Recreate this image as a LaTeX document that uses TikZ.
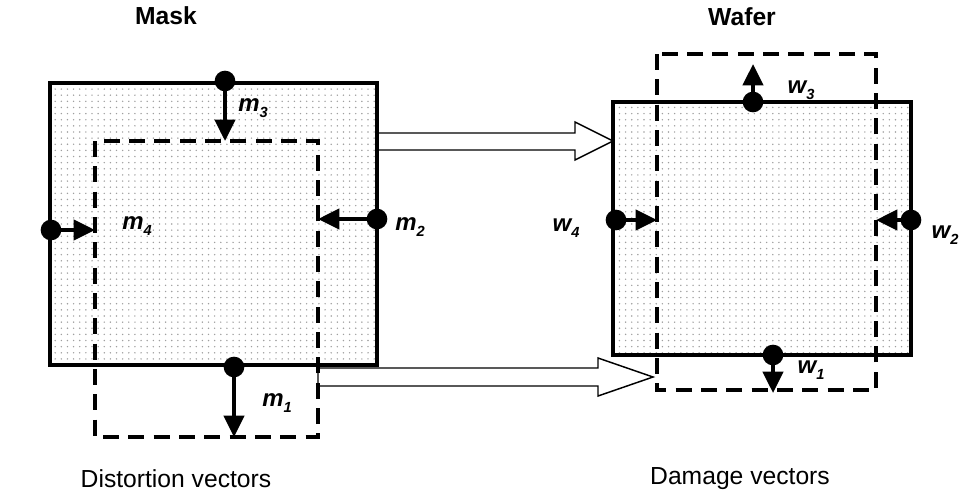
\documentclass[tikz,border=0pt]{standalone}
\usepackage{fontspec}
\setmainfont{Liberation Sans}
\usetikzlibrary{patterns,arrows.meta}
\pgfdeclarepatternformonly{sparsedots}{\pgfqpoint{-1pt}{-1pt}}{\pgfqpoint{1pt}{1pt}}{\pgfqpoint{4.6pt}{4.6pt}}%
  {\pgfpathcircle{\pgfqpoint{0pt}{0pt}}{0.6pt}\pgfusepath{fill}}
\newcommand{\idx}[1]{\raisebox{-0.45ex}{\fontsize{11}{11}\selectfont #1}}

\begin{document}
\begin{tikzpicture}[x=0.75pt,y=-0.75pt,
  plate/.style={draw,line width=3.4pt,pattern=sparsedots,pattern color=gray!75},
  shifted/.style={draw,line width=3pt,dash pattern=on 12pt off 7pt},
  vec/.style={line width=3pt,-{Triangle[length=16pt,width=15pt]}},
  pin/.style={circle,fill,inner sep=0pt,minimum size=15.5pt},
  lab/.style={font=\bfseries\itshape\fontsize{18}{18}\selectfont},
  title/.style={font=\bfseries\fontsize{18.5}{18.5}\selectfont},
  caption/.style={font=\fontsize{18.5}{18.5}\selectfont},
  hollow/.style={draw,line width=1.1pt,fill=white}]
\useasboundingbox (0,0) rectangle (966,500);

% transfer arrows
\draw[hollow] (377,133) -- (575,133) -- (575,122) -- (613,141) -- (575,160) -- (575,150) -- (377,150) -- cycle;
\draw[hollow] (318,368) -- (598,368) -- (598,358) -- (653,377) -- (598,396) -- (598,386) -- (318,386) -- cycle;

% mask
\draw[plate] (50,83) rectangle (377,365);
\draw[shifted] (95,141) rectangle (318,437);
\node[pin] (m3) at (225,81) {};
\node[pin] (m1) at (234,367) {};
\node[pin] (m4) at (51,230) {};
\node[pin] (m2) at (377,219) {};
\coordinate (m3e) at (225,141);
\coordinate (m1e) at (234,437);
\coordinate (m4e) at (95,230);
\coordinate (m2e) at (318,219);
\draw[vec] (m3.center) -- (m3e);
\draw[vec] (m1.center) -- (m1e);
\draw[vec] (m4.center) -- (m4e);
\draw[vec] (m2.center) -- (m2e);
\node[lab] (lm3) at (253,108) {m\idx{3}};
\node[lab] (lm4) at (137,226) {m\idx{4}};
\node[lab] (lm2) at (410,227) {m\idx{2}};
\node[lab] (lm1) at (277,403) {m\idx{1}};

% wafer
\draw[plate] (613,102) rectangle (911,355);
\draw[shifted] (657,54) rectangle (876,390);
\node[pin] (w3) at (753,102) {};
\node[pin] (w1) at (773,355) {};
\node[pin] (w4) at (616,220) {};
\node[pin] (w2) at (911,220) {};
\coordinate (w3e) at (753,64);
\coordinate (w1e) at (773,393);
\coordinate (w4e) at (657,220);
\coordinate (w2e) at (876,220);
\draw[vec] (w3.center) -- (w3e);
\draw[vec] (w1.center) -- (w1e);
\draw[vec] (w4.center) -- (w4e);
\draw[vec] (w2.center) -- (w2e);
\node[lab] (lw3) at (801,90) {w\idx{3}};
\node[lab] (lw1) at (811,370) {w\idx{1}};
\node[lab] (lw4) at (566,228) {w\idx{4}};
\node[lab] (lw2) at (945,235) {w\idx{2}};

% titles
\node[title] (mask) at (166,16) {Mask};
\node[title] (wafer) at (742,17) {Wafer};
\node[caption] (dist) at (176,479) {Distortion vectors};
\node[caption] (dmg) at (740,479) {Damage vectors};
\end{tikzpicture}
\end{document}
